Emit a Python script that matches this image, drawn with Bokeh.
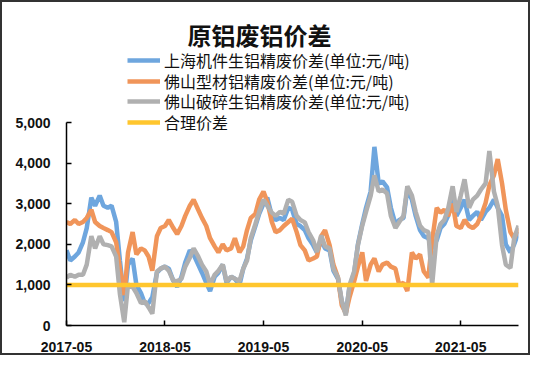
import pandas as pd
from bokeh.plotting import figure
from bokeh.models import (Range1d, FixedTicker, DatetimeTickFormatter, NumeralTickFormatter,
                          Legend, LegendItem, ColumnDataSource, Label)
from bokeh.embed import file_html
from bokeh.resources import INLINE

# ---- data (semi-monthly readings, 2017-05 .. 2021-12) ----
start_date = "2017-05-01"
end_date = "2021-12-01"

shanghai = [1850, 1600, 1700, 1800, 2050, 2400, 3150, 2950, 3200, 2950, 2900, 2950,
            2550, 1600, 600, 1500, 1650, 1000, 800, 550, 550, 700, 1300, 1400,
            1450, 1400, 1100, 950, 1200, 1550, 1850, 1750, 1500, 1300, 1050, 850,
            1200, 1300, 1500, 1050, 1200, 1150, 1000, 1400, 1650, 2100, 2450, 2750,
            3000, 3150, 2700, 2600, 2650, 2600, 2900, 2850, 2500, 2450, 2350, 2150,
            1980, 1800, 2100, 1900, 1850, 1350, 1150, 600, 300, 950, 1300, 2000,
            2500, 2900, 3300, 4400, 3500, 3550, 3400, 2900, 2500, 2600, 2650, 3350,
            3100, 2700, 2350, 2200, 2150, 1900, 2100, 2400, 2500, 2700, 3200, 2700,
            2900, 3100, 2600, 2700, 2800, 2600, 2800, 2900, 3100, 2900, 2700, 2000,
            1800, 2000, 2300]

foshan_profile = [2550, 2500, 2600, 2500, 2550, 2650, 2850, 2550, 2450, 2400, 2350, 2300,
                  2050, 1400, 750, 1800, 2300, 1750, 1900, 1850, 1700, 1350, 2200, 2400,
                  2450, 2600, 2400, 2250, 2450, 2700, 2950, 3100, 2850, 2650, 2450, 2150,
                  1950, 1800, 2000, 1850, 1900, 2150, 1800, 1950, 2350, 2650, 2750, 3100,
                  3300, 3050, 2550, 2300, 2350, 2450, 2550, 2630, 2300, 1980, 1850, 1600,
                  1650, 1700, 2200, 2350, 1980, 1500, 1180, 500, 300, 700, 1090, 1450,
                  1800, 1100, 1500, 1650, 1330, 1500, 1550, 1450, 1400, 1000, 1050, 850,
                  1800, 1650, 1750, 1330, 1180, 2100, 2900, 2780, 2850, 2700, 3000, 2450,
                  2400, 2600, 2450, 2400, 2500, 2700, 3020, 3450, 3700, 4100, 3500, 2850,
                  2300, 2150, 2400]

foshan_scrap = [1180, 1250, 1200, 1250, 1250, 1500, 2200, 1900, 2200, 2000, 1980, 1950,
                1700, 770, 80, 1010, 950, 800, 550, 600, 450, 290, 1330, 1400,
                1450, 1350, 1100, 1090, 1150, 1450, 1670, 1900, 1700, 1500, 1330, 1010,
                1250, 1350, 1500, 1090, 1200, 1150, 1100, 1400, 1600, 2150, 2500, 2800,
                3100, 2950, 2780, 2700, 2800, 2750, 3100, 3050, 2700, 2600, 2540, 2300,
                2100, 1810, 2220, 1950, 1900, 1400, 1180, 600, 250, 1000, 1330, 1980,
                2460, 2800, 3190, 3700, 3300, 3350, 3250, 2700, 2400, 2550, 2700, 3430,
                3200, 2800, 2460, 2350, 2300, 1000, 2220, 2500, 2600, 2870, 3430, 2800,
                3200, 3600, 2900, 3100, 3200, 3350, 3500, 4300, 3300, 2950, 1980, 1500,
                1420, 2150, 2460]

fair_spread = 1000

title_text = "原铝废铝价差"
series_names = ["上海机件生铝精废价差(单位:元/吨)", "佛山型材铝精废价差(单位:元/吨)",
                "佛山破碎生铝精废价差(单位:元/吨)", "合理价差"]
tick_labels = ["2017-05", "2018-05", "2019-05", "2020-05", "2021-05"]
y_ticks = [0, 1000, 2000, 3000, 4000, 5000]

dates = pd.date_range(start_date, end_date, freq="SMS")
src = ColumnDataSource(dict(
    date=dates,
    sh=shanghai,
    fp=foshan_profile,
    fs=foshan_scrap,
    fair=[fair_spread] * len(dates),
))

colors = ["#6EA6DE", "#F0955A", "#B0B0B0", "#FFC62E"]

FRAME_H = 315          # px, frame height
AXIS_SPAN = 203        # px between 0 and 5000

p = figure(width=530, height=355, x_axis_type="datetime",
           output_backend="svg", toolbar_location=None,
           min_border_left=64, min_border_right=14, min_border_top=8, min_border_bottom=32)

p.x_range = Range1d(pd.Timestamp(start_date), pd.Timestamp(end_date))
p.y_range = Range1d(0, 5000 * FRAME_H / AXIS_SPAN)

r1 = p.line("date", "sh", source=src, line_color=colors[0], line_width=4.5)
r2 = p.line("date", "fp", source=src, line_color=colors[1], line_width=4.5)
r3 = p.line("date", "fs", source=src, line_color=colors[2], line_width=4.5)
r4 = p.line("date", "fair", source=src, line_color=colors[3], line_width=4.5)

# title as a label inside the frame
p.add_layout(Label(x=121, y=FRAME_H - 24, x_units="screen", y_units="screen",
                   text=title_text, text_font="Noto Sans CJK SC", text_font_size="24px",
                   text_font_style="bold", text_color="#111111",
                   text_align="left", text_baseline="middle"))

# axes
tick_ms = [pd.Timestamp(t + "-01").value / 1e6 for t in tick_labels]
p.xaxis.ticker = FixedTicker(ticks=tick_ms)
p.xaxis.formatter = DatetimeTickFormatter(years="%Y-%m", months="%Y-%m", days="%Y-%m",
                                          hours="%Y-%m", minutes="%Y-%m")
p.yaxis.ticker = FixedTicker(ticks=y_ticks)
p.yaxis.formatter = NumeralTickFormatter(format="0,0")
p.yaxis.bounds = (0, 5000)

for ax in (p.xaxis[0], p.yaxis[0]):
    ax.axis_line_color = "#000000"
    ax.axis_line_width = 1.5
    ax.major_tick_line_color = "#000000"
    ax.major_tick_line_width = 1.5
    ax.major_tick_in = 5
    ax.major_tick_out = 0
    ax.minor_tick_line_color = None
    ax.major_label_text_font = "Liberation Sans"
    ax.major_label_text_font_size = "14px"
    ax.major_label_text_font_style = "bold"
    ax.major_label_text_color = "#111111"
p.xaxis.major_label_standoff = 16
p.yaxis.major_label_standoff = 16

p.xgrid.grid_line_color = None
p.ygrid.grid_line_color = None
p.outline_line_color = None
p.background_fill_color = "white"
p.border_fill_color = "white"
p.styles = {"border": "2px solid #333333"}

# one legend per row so the row pitch can be set freely
row_centers_from_top = [50, 70.5, 91, 111.5]   # px below frame top
ITEM_H = 24
for name, r, c in zip(series_names, [r1, r2, r3, r4], row_centers_from_top):
    lg = Legend(items=[LegendItem(label=name, renderers=[r])],
                location=(61, FRAME_H - c - ITEM_H / 2))
    lg.label_text_font = "Noto Sans CJK SC"
    lg.label_text_font_size = "16px"
    lg.label_text_color = "#111111"
    lg.glyph_width = 33
    lg.glyph_height = ITEM_H
    lg.label_height = ITEM_H
    lg.spacing = 0
    lg.padding = 0
    lg.margin = 0
    lg.label_standoff = 4
    lg.border_line_color = None
    lg.background_fill_alpha = 0
    p.add_layout(lg)

open("out.html", "w").write(file_html(p, INLINE))
